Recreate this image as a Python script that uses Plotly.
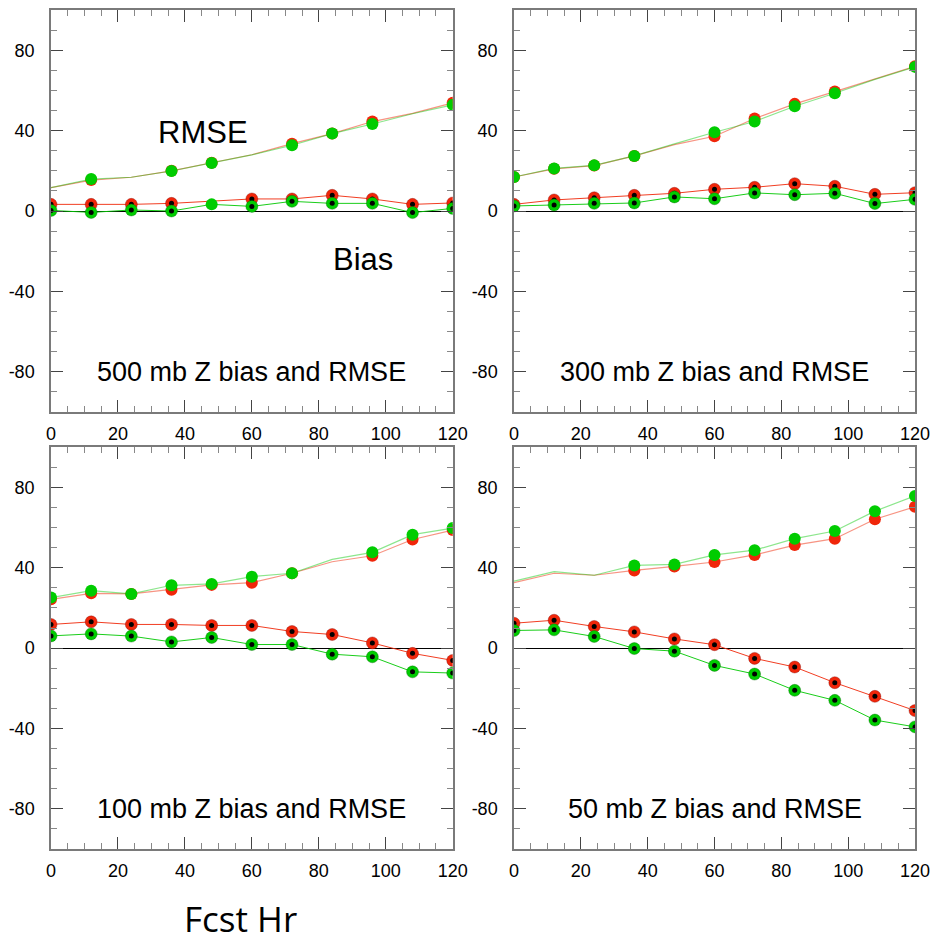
import plotly.graph_objects as go

# Forecast hours shared by every panel
fcst_hr = [0, 12, 24, 36, 48, 60, 72, 84, 96, 108, 120]

# 500 mb geopotential height statistics (m)
rmse_red_500 = [11.6, 15.4, 16.8, 20.0, 24.0, 28.0, 33.5, 38.5, 44.5, 48.6, 53.8]
rmse_green_500 = [11.6, 15.9, 16.8, 19.9, 23.9, 27.9, 32.7, 38.5, 43.3, 48.4, 52.8]
bias_red_500 = [3.3, 3.3, 3.3, 3.8, 4.9, 6.0, 6.0, 7.8, 6.0, 3.3, 4.0]
bias_green_500 = [0.3, -0.7, 0.5, 0.0, 3.3, 2.3, 4.8, 3.8, 3.8, -0.8, 1.3]

# 300 mb
rmse_red_300 = [16.9, 21.0, 22.6, 27.4, 33.0, 37.2, 46.0, 53.3, 59.4, 65.8, 72.0]
rmse_green_300 = [16.9, 21.2, 22.7, 27.4, 33.4, 39.2, 44.5, 52.1, 58.6, 65.5, 71.7]
bias_red_300 = [3.3, 5.5, 6.6, 7.8, 8.8, 10.8, 11.8, 13.6, 12.3, 8.3, 9.1]
bias_green_300 = [2.5, 3.0, 3.8, 4.0, 7.0, 6.1, 9.0, 8.1, 8.8, 3.7, 5.8]

# 100 mb
rmse_red_100 = [24.3, 27.3, 27.0, 29.1, 31.5, 32.6, 37.3, 43.0, 46.0, 54.1, 58.8]
rmse_green_100 = [25.2, 28.6, 27.0, 31.3, 32.0, 35.6, 37.3, 44.2, 47.7, 56.5, 59.8]
bias_red_100 = [11.8, 13.1, 11.8, 11.8, 11.3, 11.3, 8.3, 6.8, 2.6, -2.6, -6.1]
bias_green_100 = [6.1, 7.1, 6.0, 3.1, 5.3, 1.8, 1.8, -3.0, -4.3, -11.8, -12.4]

# 50 mb
rmse_red_50 = [32.6, 37.3, 36.3, 38.7, 40.7, 42.9, 46.4, 51.3, 54.5, 64.2, 70.4]
rmse_green_50 = [33.4, 38.1, 36.3, 41.2, 41.7, 46.4, 48.8, 54.5, 58.3, 68.2, 75.8]
bias_red_50 = [12.4, 13.9, 10.8, 8.1, 4.6, 1.7, -5.1, -9.4, -17.2, -24.0, -31.1]
bias_green_50 = [8.8, 9.1, 5.8, -0.2, -1.5, -8.6, -12.9, -21.0, -26.0, -35.8, -39.2]

# Forecast hours that carry a marker
rmse_marked_500 = [12, 36, 48, 72, 84, 96, 120]
rmse_marked_300 = [0, 12, 24, 36, 60, 72, 84, 96, 120]
rmse_marked_100 = [0, 12, 24, 36, 48, 60, 72, 96, 108, 120]
rmse_marked_50 = [36, 48, 60, 72, 84, 96, 108, 120]
bias_marked_500 = [0, 12, 24, 36, 60, 72, 84, 96, 108, 120]
bias_marked_all = fcst_hr
bias_plain_green_500 = [48]

panel_titles = ["500 mb Z bias and RMSE", "300 mb Z bias and RMSE",
                "100 mb Z bias and RMSE", "50 mb Z bias and RMSE"]
x_ticks = [0, 20, 40, 60, 80, 100, 120]
y_ticks = [-80, -40, 0, 40, 80]
y_tick_text = ["-80", "-40", "0", "40", "80"]

RED = "#f0260a"
GREEN = "#00cc00"
RED_RMSE_LINE = "rgba(240,60,30,0.55)"
GREEN_RMSE_LINE = "rgba(0,200,0,0.45)"
RED_BIAS_LINE = "rgba(240,40,10,0.9)"
GREEN_BIAS_LINE = "rgba(0,200,0,0.9)"

W, H = 931, 944
FONT = "Liberation Sans, Arial, sans-serif"

panels = [
    dict(rr=rmse_red_500, rg=rmse_green_500, br=bias_red_500, bg=bias_green_500,
         rm=rmse_marked_500, bm=bias_marked_500, gplain=bias_plain_green_500),
    dict(rr=rmse_red_300, rg=rmse_green_300, br=bias_red_300, bg=bias_green_300,
         rm=rmse_marked_300, bm=bias_marked_all, gplain=[]),
    dict(rr=rmse_red_100, rg=rmse_green_100, br=bias_red_100, bg=bias_green_100,
         rm=rmse_marked_100, bm=bias_marked_all, gplain=[]),
    dict(rr=rmse_red_50, rg=rmse_green_50, br=bias_red_50, bg=bias_green_50,
         rm=rmse_marked_50, bm=bias_marked_all, gplain=[]),
]

# Plot-area boxes in pixels: (left, right, top, bottom)
boxes = [(51, 452.7, 10, 412), (514, 915, 10, 412),
         (51, 452.7, 447.3, 849), (514, 915, 447.3, 849)]


def pick(hours, values, keep):
    xs = [h for h in hours if h in keep]
    ys = [v for h, v in zip(hours, values) if h in keep]
    return xs, ys


fig = go.Figure()

for i, p in enumerate(panels):
    n = "" if i == 0 else str(i + 1)
    xa, ya = "x" + n, "y" + n
    for rmse, bias, col, rline, bline, plain, ring in [
        (p["rr"], p["br"], RED, RED_RMSE_LINE, RED_BIAS_LINE, [], "rgba(120,0,0,0.35)"),
        (p["rg"], p["bg"], GREEN, GREEN_RMSE_LINE, GREEN_BIAS_LINE, p["gplain"], "rgba(0,90,0,0.35)"),
    ]:
        fig.add_trace(go.Scatter(x=fcst_hr, y=rmse, mode="lines", xaxis=xa, yaxis=ya,
                                 line=dict(color=rline, width=1.2), showlegend=False))
        fig.add_trace(go.Scatter(x=fcst_hr, y=bias, mode="lines", xaxis=xa, yaxis=ya,
                                 line=dict(color=bline, width=1), showlegend=False))
        mx, my = pick(fcst_hr, rmse, p["rm"])
        fig.add_trace(go.Scatter(x=mx, y=my, mode="markers", xaxis=xa, yaxis=ya,
                                 marker=dict(color=col, size=12, line=dict(width=0)),
                                 showlegend=False))
        px_, py_ = pick(fcst_hr, bias, plain)
        fig.add_trace(go.Scatter(x=px_, y=py_, mode="markers", xaxis=xa, yaxis=ya,
                                 marker=dict(color=col, size=12, line=dict(width=0)),
                                 showlegend=False))
        bx, by = pick(fcst_hr, bias, p["bm"])
        fig.add_trace(go.Scatter(x=bx, y=by, mode="markers", xaxis=xa, yaxis=ya,
                                 marker=dict(color=col, size=12, line=dict(width=1, color=ring)),
                                 showlegend=False))
        fig.add_trace(go.Scatter(x=bx, y=by, mode="markers", xaxis=xa, yaxis=ya,
                                 marker=dict(color="black", size=5, line=dict(width=0)),
                                 showlegend=False))

axis_common = dict(
    showline=True, linecolor="#7a7a7a", linewidth=1.5, mirror="allticks",
    ticks="inside", ticklen=12, tickwidth=1.2, tickcolor="#444",
    showgrid=False, automargin=False,
    tickfont=dict(family=FONT, size=18, color="black"),
)

layout = dict(width=W, height=H, margin=dict(l=0, r=0, t=0, b=0),
              paper_bgcolor="white", plot_bgcolor="white", showlegend=False)

annotations = []
for i, (l, r, t, b) in enumerate(boxes):
    n = "" if i == 0 else str(i + 1)
    layout["xaxis" + n] = dict(
        axis_common, domain=[l / W, r / W], anchor="y" + n,
        range=[0, 120], tickvals=x_ticks, ticklabelstandoff=5,
        minor=dict(dtick=5, tick0=0, ticks="inside", ticklen=6, tickwidth=1,
                   tickcolor="#888", showgrid=False),
        zeroline=False,
    )
    layout["yaxis" + n] = dict(
        axis_common, domain=[1 - b / H, 1 - t / H], anchor="x" + n,
        range=[-100, 100], tickvals=y_ticks, ticktext=y_tick_text,
        ticklabelstandoff=11,
        minor=dict(dtick=10, tick0=0, ticks="inside", ticklen=6, tickwidth=1,
                   tickcolor="#888", showgrid=False),
        zeroline=True, zerolinecolor="black", zerolinewidth=1,
    )
    annotations.append(dict(x=60, y=-80, xref="x" + n, yref="y" + n,
                            xanchor="center", yanchor="middle",
                            text=panel_titles[i], showarrow=False,
                            font=dict(family=FONT, size=27, color="black")))

annotations.append(dict(x=45.4, y=39, xref="x", yref="y", text="RMSE", showarrow=False,
                        xanchor="center", yanchor="middle",
                        font=dict(family=FONT, size=31, color="black")))
annotations.append(dict(x=93.2, y=-24.3, xref="x", yref="y", text="Bias", showarrow=False,
                        xanchor="center", yanchor="middle",
                        font=dict(family=FONT, size=31, color="black")))
annotations.append(dict(x=240 / W, y=1 - 918 / H, xref="paper", yref="paper",
                        xanchor="center", yanchor="middle", borderpad=0,
                        text="Fcst Hr", showarrow=False,
                        font=dict(family="Open Sans, sans-serif", size=35, color="black")))

layout["annotations"] = annotations
fig.update_layout(**layout)

fig.write_html("out.html")
